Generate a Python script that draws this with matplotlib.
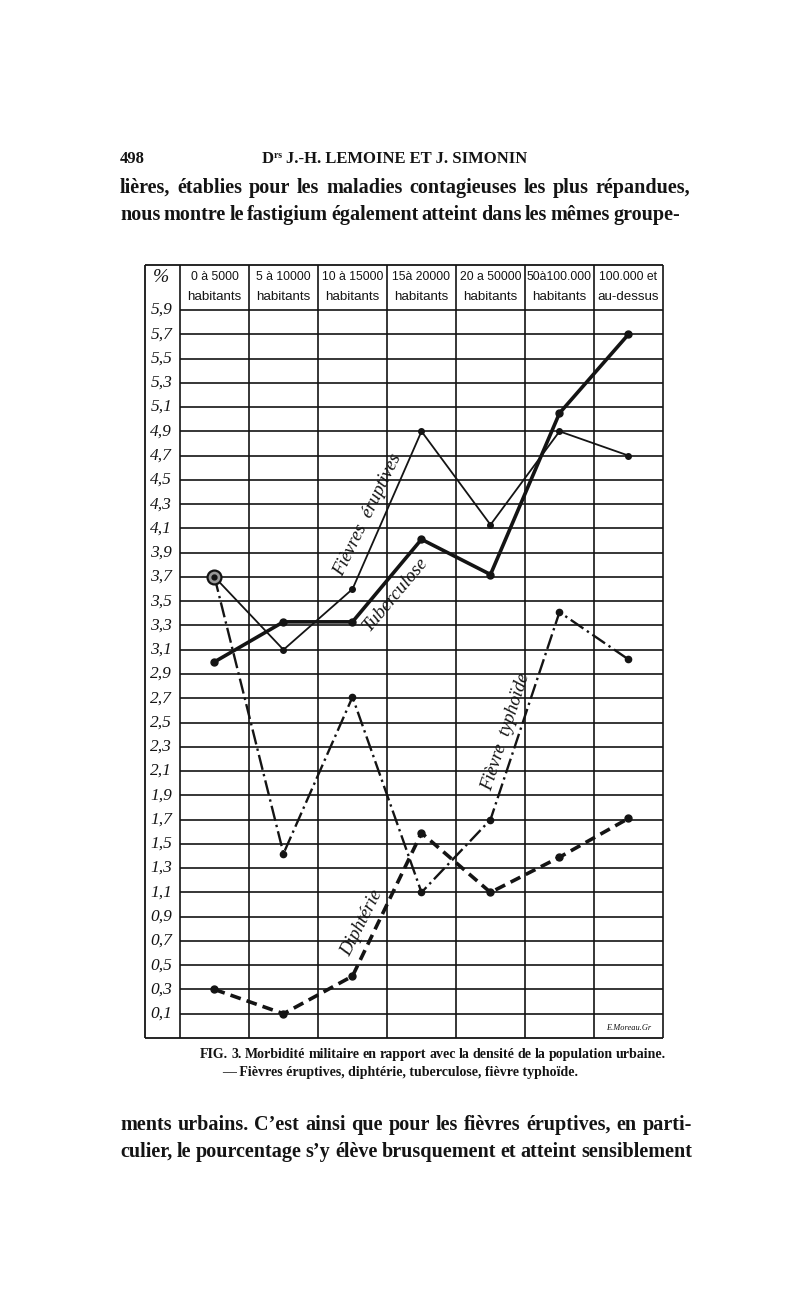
import matplotlib
matplotlib.use("Agg")
import matplotlib.pyplot as plt

# ---------------- data ----------------
col_top = ["0 à 5000", "5 à 10000", "10 à 15000", "15à 20000",
           "20 a 50000", "50à100.000", "100.000 et"]
col_bottom = ["habitants", "habitants", "habitants", "habitants",
              "habitants", "habitants", "au-dessus"]
y_values = [5.9, 5.7, 5.5, 5.3, 5.1, 4.9, 4.7, 4.5, 4.3, 4.1, 3.9, 3.7, 3.5,
            3.3, 3.1, 2.9, 2.7, 2.5, 2.3, 2.1, 1.9, 1.7, 1.5, 1.3, 1.1, 0.9,
            0.7, 0.5, 0.3, 0.1]
y_labels = ["5,9", "5,7", "5,5", "5,3", "5,1", "4,9", "4,7", "4,5", "4,3",
            "4,1", "3,9", "3,7", "3,5", "3,3", "3,1", "2,9", "2,7", "2,5",
            "2,3", "2,1", "1,9", "1,7", "1,5", "1,3", "1,1", "0,9", "0,7",
            "0,5", "0,3", "0,1"]
eruptives = [3.7, 3.1, 3.6, 4.9, 4.13, 4.9, 4.7]
tuberculose = [3.0, 3.33, 3.33, 4.01, 3.72, 5.05, 5.7]
typhoide = [3.7, 1.42, 2.71, 1.1, 1.7, 3.41, 3.02]
diphterie = [0.3, 0.1, 0.41, 1.59, 1.1, 1.39, 1.71]

# ---------------- figure ----------------
W, H = 800, 1304
fig = plt.figure(figsize=(W / 100, H / 100), dpi=100)
fig.patch.set_facecolor("white")
INK = "#141414"

def fx(px):
    return px / W

def fy(py):
    return 1 - py / H

ax = fig.add_axes([fx(145), fy(1038), (663 - 145) / W, (1038 - 265) / H])
XL, XR, YB, YT = -0.507, 7.0, -0.1, 6.271
ax.set_xlim(XL, XR)
ax.set_ylim(YB, YT)
ax.axis("off")

# grid
ax.hlines(y_values, 0, 7, color=INK, lw=1.2, clip_on=False)
ax.vlines(range(0, 8), YB, YT, color=INK, lw=1.2, clip_on=False)
ax.hlines([YB, YT], XL, XR, color=INK, lw=1.3, clip_on=False)
ax.vlines([XL], YB, YT, color=INK, lw=1.3, clip_on=False)

xs = [i + 0.5 for i in range(len(eruptives))]

serif_it = dict(family=["Liberation Serif", "DejaVu Serif"], style="italic")
sans = ["Liberation Sans", "DejaVu Sans"]

# y labels
for v, lab in zip(y_values, y_labels):
    ax.text(-0.27, v, lab, ha="center", va="center", fontsize=12.5,
            color=INK, **serif_it)
ax.text(-0.27, 6.172, "%", ha="center", va="center", fontsize=14,
        color=INK, **serif_it)

# column headers
for x, t, b in zip(xs, col_top, col_bottom):
    ax.text(x, 6.172, t, ha="center", va="center", fontsize=8.8,
            color=INK, family=sans)
    ax.text(x, 6.007, b, ha="center", va="center", fontsize=9.6,
            color=INK, family=sans)

# series
ax.plot(xs, eruptives, color=INK, lw=1.3, marker="o", ms=4, zorder=5,
        clip_on=False)
ax.plot(xs, tuberculose, color=INK, lw=2.6, marker="o", ms=5, zorder=5,
        clip_on=False)
ax.plot(xs, typhoide, color=INK, lw=1.7, marker="o", ms=4.5, zorder=5,
        linestyle=(0, (6.5, 1.8, 1.0, 1.8)), clip_on=False)
ax.plot(xs, diphterie, color=INK, lw=2.6, marker="o", ms=5, zorder=5,
        linestyle=(0, (3.0, 1.7)), clip_on=False)
ax.plot(xs[0], eruptives[0], marker="o", ms=10, mfc="#999999", mec=INK,
        mew=1.6, zorder=6)
ax.plot(xs[0], eruptives[0], marker="o", ms=3.5, color=INK, zorder=7)

# in-line series labels
ax.text(2.72, 4.21, "Fièvres  éruptives", rotation=64, ha="center",
        va="center", fontsize=13.5, color=INK, **serif_it)
ax.text(3.13, 3.56, "Tuberculose", rotation=50, ha="center", va="center",
        fontsize=13.5, color=INK, **serif_it)
ax.text(2.64, 0.85, "Diphtérie", rotation=63, ha="center", va="center",
        fontsize=13.5, color=INK, **serif_it)
ax.text(4.72, 2.42, "Fièvre  typhoïde", rotation=72, ha="center",
        va="center", fontsize=13.5, color=INK, **serif_it)
ax.text(6.5, -0.02, "E.Moreau.Gr", ha="center", va="center", fontsize=6,
        color=INK, **serif_it)

# ---------------- page text ----------------
renderer = fig.canvas.get_renderer()
body = dict(family=["Liberation Serif", "DejaVu Serif"], weight="bold",
            color=INK)

def justified(line, x0, x1, ybase, size, **kw):
    words = line.split(" ")
    ts = [fig.text(0, 0, w, fontsize=size, va="baseline", **kw) for w in words]
    widths = [t.get_window_extent(renderer).width for t in ts]
    gap = (x1 - x0 - sum(widths)) / max(len(words) - 1, 1)
    x = x0
    for t, w in zip(ts, widths):
        t.set_position((fx(x), fy(ybase)))
        x += w + gap

fig.text(fx(120), fy(163), "498", fontsize=12, va="baseline", **body)
fig.text(fx(262), fy(163), "Dʳˢ J.-H. LEMOINE ET J. SIMONIN", fontsize=12,
         va="baseline", **body)
justified("lières, établies pour les maladies contagieuses les plus répandues,",
          120, 690, 193, 14.5, **body)
justified("nous montre le fastigium également atteint dans les mêmes groupe-",
          120, 680, 220, 14.5, **body)
justified("FIG. 3. Morbidité militaire en rapport avec la densité de la population urbaine.",
          200, 666, 1058, 10.0, **body)
fig.text(fx(222), fy(1076), "— Fièvres éruptives, diphtérie, tuberculose, fièvre typhoïde.",
         fontsize=10.0, va="baseline", **body)
justified("ments urbains. C’est ainsi que pour les fièvres éruptives, en parti-",
          120, 692, 1130, 14.5, **body)
justified("culier, le pourcentage s’y élève brusquement et atteint sensiblement",
          120, 692, 1157, 14.5, **body)

fig.savefig("out.png", dpi=100, facecolor="white")
